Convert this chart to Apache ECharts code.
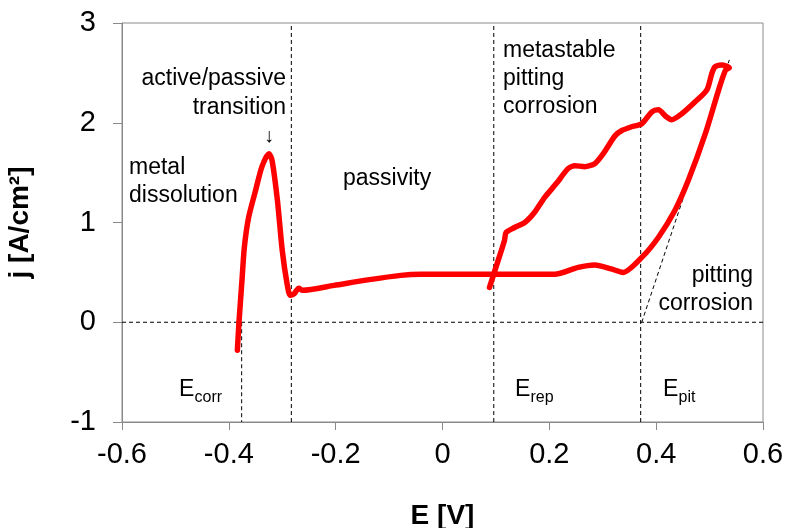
<!DOCTYPE html>
<html>
<head>
<meta charset="utf-8">
<script src="https://cdn.jsdelivr.net/npm/echarts@6/dist/echarts.min.js"></script>
<style>
html,body{margin:0;padding:0;background:#fff;}
#c{width:786px;height:528px;}
</style>
</head>
<body>
<div id="c"></div>
<script>
// Polarization curve (E in V, j in A/cm²), in scan order
const curveE = [-0.384,-0.381,-0.375,-0.371,-0.363,-0.350,-0.338,-0.325,-0.319,-0.309,-0.300,-0.291,-0.285,-0.278,-0.269,-0.262,-0.203,-0.140,-0.078,-0.040,0.054,0.150,0.210,0.254,0.285,0.316,0.338,0.373,0.404,0.435,0.460,0.492,0.517,0.530,0.537,
  0.523,0.510,0.504,0.495,0.473,0.448,0.429,0.419,0.404,0.392,0.373,0.354,0.335,0.323,0.301,0.285,0.266,0.248,0.235,0.213,0.191,0.172,0.154,0.135,0.119,0.116,0.100,0.088];
const curveJ = [-0.28,0.00,0.45,0.75,1.05,1.32,1.56,1.69,1.62,1.22,0.72,0.385,0.27,0.285,0.34,0.32,0.37,0.425,0.47,0.48,0.48,0.48,0.48,0.55,0.575,0.535,0.50,0.65,0.85,1.12,1.42,1.89,2.33,2.53,2.55,
  2.58,2.56,2.49,2.33,2.21,2.09,2.03,2.06,2.13,2.11,1.99,1.96,1.92,1.87,1.69,1.59,1.56,1.57,1.54,1.39,1.25,1.10,1.00,0.95,0.90,0.82,0.55,0.35];

// Characteristic potentials (V)
const eCorr = -0.376;
const ePass = -0.283;
const eRep = 0.096;
const ePit = 0.371;
// Tangent line for E_pit
const tangentE = [0.373, 0.537];
const tangentJ = [0.0, 2.63];

const xTicks = [-0.6,-0.4,-0.2,0,0.2,0.4,0.6];
const yTicks = [-1,0,1,2,3];

const FONT = '"Liberation Sans", Arial, sans-serif';
const AX = '#8a8a8a';

const chart = echarts.init(document.getElementById('c'), null, {renderer:'canvas'});

function pts(xs, ys){ return xs.map((x,i)=>[x, ys[i]]); }
const dashStyle = {color:'#000', width:1, type:[4,3]};

function dashSeries(data){
  return {type:'line', data:data, symbol:'none', silent:true, lineStyle:dashStyle, z:1, animation:false};
}

const option = {
  animation:false,
  backgroundColor:'#fff',
  grid:{left:122, right:23, top:23, bottom:106, containLabel:false, outerBoundsMode:'none',
    show:true, borderColor:AX, borderWidth:1, backgroundColor:'transparent'},
  xAxis:{
    type:'value', min:xTicks[0], max:xTicks[xTicks.length-1], interval:0.2,
    name:'E [V]', nameLocation:'middle', nameGap:80,
    nameTextStyle:{fontFamily:FONT, fontSize:28, fontWeight:'bold', color:'#000'},
    axisLine:{show:true, onZero:false, lineStyle:{color:AX, width:1}},
    axisTick:{show:true, length:8, lineStyle:{color:AX}},
    axisLabel:{fontFamily:FONT, fontSize:29, color:'#000', margin:18,
      formatter:v=>String(Math.round(v*10)/10)},
    splitLine:{show:false}
  },
  yAxis:{
    type:'value', min:yTicks[0], max:yTicks[yTicks.length-1], interval:1,
    name:'j [A/cm²]', nameLocation:'middle', nameGap:88, nameRotate:90,
    nameTextStyle:{fontFamily:FONT, fontSize:28, fontWeight:'bold', color:'#000'},
    axisLine:{show:true, onZero:false, lineStyle:{color:AX, width:1}},
    axisTick:{show:true, length:9, lineStyle:{color:AX}},
    axisLabel:{fontFamily:FONT, fontSize:29, color:'#000', margin:26},
    splitLine:{show:false}
  },
  series:[
    dashSeries([[xTicks[0],0],[xTicks[xTicks.length-1],0]]),
    dashSeries([[eCorr,0],[eCorr,yTicks[0]]]),
    dashSeries([[ePass,yTicks[0]],[ePass,yTicks[yTicks.length-1]]]),
    dashSeries([[eRep,yTicks[0]],[eRep,yTicks[yTicks.length-1]]]),
    dashSeries([[ePit,yTicks[0]],[ePit,yTicks[yTicks.length-1]]]),
    dashSeries(pts(tangentE, tangentJ)),
    {type:'line', data:pts(curveE, curveJ), symbol:'none', smooth:0.25, z:5,
      lineStyle:{color:'#ff0000', width:5.5, cap:'round', join:'round'}}
  ]
};
chart.setOption(option);

function T(text, x, y, align, size, extra){
  return Object.assign({type:'text', x:x, y:y, silent:true, z:10,
    style:{text:text, fill:'#000', font:(size||23)+'px '+FONT, textAlign:align||'left', textVerticalAlign:'middle'}}, extra||{});
}
function sub(main, s, x, baseY){
  return [
    {type:'text', x:x, y:baseY, silent:true, z:10, style:{text:main, fill:'#000', font:'23px '+FONT, textAlign:'left', textVerticalAlign:'bottom'}},
    {type:'text', x:x+15.5, y:baseY+5, silent:true, z:10, style:{text:s, fill:'#000', font:'16px '+FONT, textAlign:'left', textVerticalAlign:'bottom'}}
  ];
}
const g = [
  T('active/passive', 286, 79, 'right'),
  T('transition', 286, 108, 'right'),
  T('↓', 269, 136, 'center', 20),
  T('metal', 129, 168, 'left'),
  T('dissolution', 129, 196, 'left'),
  T('passivity', 343, 179, 'left'),
  T('metastable', 503, 51, 'left'),
  T('pitting', 503, 79, 'left'),
  T('corrosion', 503, 107, 'left'),
  T('pitting', 753, 276, 'right'),
  T('corrosion', 753, 304, 'right')
].concat(sub('E','corr',179,401), sub('E','rep',515,401), sub('E','pit',663,401));
chart.setOption({graphic:g});
</script>
</body>
</html>
